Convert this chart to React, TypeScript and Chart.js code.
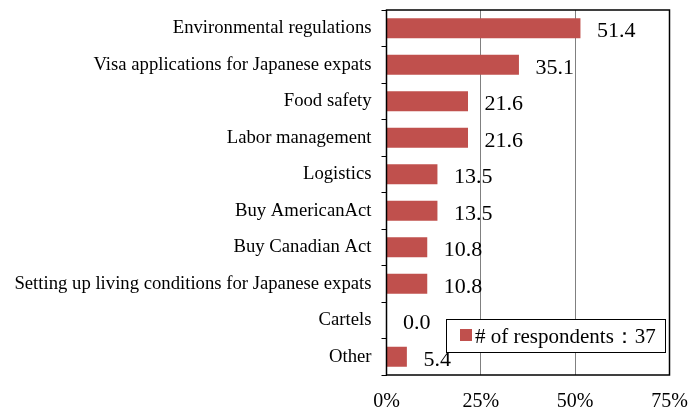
import React, { useEffect, useRef } from "react";
import { Chart, registerables } from "chart.js";

Chart.register(...registerables);

const categories: string[] = [
  "Environmental regulations",
  "Visa applications for Japanese expats",
  "Food safety",
  "Labor management",
  "Logistics",
  "Buy AmericanAct",
  "Buy Canadian Act",
  "Setting up living conditions for Japanese expats",
  "Cartels",
  "Other",
];
const values: number[] = [51.4, 35.1, 21.6, 21.6, 13.5, 13.5, 10.8, 10.8, 0.0, 5.4];
const seriesName = "# of respondents：37";
const xTicks: number[] = [0, 25, 50, 75];

const BAR_COLOR = "#C0504D";
const SERIF = "'Liberation Serif', 'Times New Roman', serif";

const labelPlugin = {
  id: "valueLabels",
  afterDatasetsDraw(chart: any) {
    const ctx = chart.ctx;
    const meta = chart.getDatasetMeta(0);
    ctx.save();
    ctx.font = `22px ${SERIF}`;
    ctx.fillStyle = "#000";
    ctx.textAlign = "left";
    ctx.textBaseline = "alphabetic";
    meta.data.forEach((bar: any, i: number) => {
      ctx.fillText(values[i].toFixed(1), bar.x + 16.5, bar.y + 9);
    });
    ctx.restore();
  },
};

const framePlugin = {
  id: "frameAndLegend",
  afterDraw(chart: any) {
    const ctx = chart.ctx;
    const a = chart.chartArea;
    ctx.save();
    ctx.strokeStyle = "#000";
    ctx.lineWidth = 1.5;
    ctx.strokeRect(a.left, a.top, a.right - a.left, a.bottom - a.top);
    // legend
    const bw = 219;
    const bh = 33;
    const bx = a.right - 4.5 - bw;
    const by = a.bottom - 23 - bh;
    ctx.fillStyle = "#fff";
    ctx.fillRect(bx, by, bw, bh);
    ctx.lineWidth = 1;
    ctx.strokeStyle = "#000";
    ctx.strokeRect(bx + 0.5, by + 0.5, bw, bh);
    ctx.fillStyle = BAR_COLOR;
    ctx.fillRect(bx + 14, by + 10, 12, 12);
    ctx.fillStyle = "#000";
    ctx.font = `21px ${SERIF}`;
    ctx.textBaseline = "alphabetic";
    ctx.textAlign = "left";
    ctx.fillText(seriesName, bx + 29, by + 24);
    ctx.restore();
  },
};

export default function App() {
  const canvasRef = useRef<HTMLCanvasElement | null>(null);

  useEffect(() => {
    document.body.style.margin = "0";
    const canvas = canvasRef.current;
    if (!canvas) return;
    const chart = new Chart(canvas, {
      type: "bar",
      data: {
        labels: categories,
        datasets: [
          {
            label: seriesName,
            data: values,
            backgroundColor: BAR_COLOR,
            borderWidth: 0,
            barPercentage: 0.55,
            categoryPercentage: 1,
          },
        ],
      },
      options: {
        indexAxis: "y",
        animation: false,
        responsive: false,
        maintainAspectRatio: false,
        layout: { padding: { left: 0, right: 20.5, top: 10, bottom: 0 } },
        plugins: {
          legend: { display: false },
          tooltip: { enabled: false },
        },
        scales: {
          x: {
            min: 0,
            max: 75,
            afterBuildTicks: (axis: any) => {
              axis.ticks = xTicks.map((v) => ({ value: v }));
            },
            afterFit: (axis: any) => {
              axis.paddingLeft = 0;
              axis.paddingRight = 0;
              axis.height = 35;
            },
            border: { display: false },
            grid: {
              color: "#808080",
              lineWidth: 1,
              drawTicks: false,
            },
            ticks: {
              color: "#000",
              padding: 17,
              font: { family: SERIF, size: 20, lineHeight: 1 },
              callback: (v: any) => `${v}%`,
              maxRotation: 0,
            },
          },
          y: {
            afterFit: (axis: any) => {
              axis.paddingTop = 0;
              axis.paddingBottom = 0;
              axis.width = 386.5;
            },
            border: { display: false },
            grid: {
              offset: true,
              drawOnChartArea: false,
              drawTicks: true,
              tickLength: 5,
              tickColor: "#000",
              lineWidth: 1,
            },
            ticks: {
              color: "#000",
              padding: 10,
              font: { family: SERIF, size: 18.7 },
              autoSkip: false,
            },
          },
        },
      },
      plugins: [labelPlugin, framePlugin],
    });
    return () => chart.destroy();
  }, []);

  return (
    <div style={{ width: 690, height: 410 }}>
      <canvas ref={canvasRef} width={690} height={410} style={{ display: "block" }} />
    </div>
  );
}
